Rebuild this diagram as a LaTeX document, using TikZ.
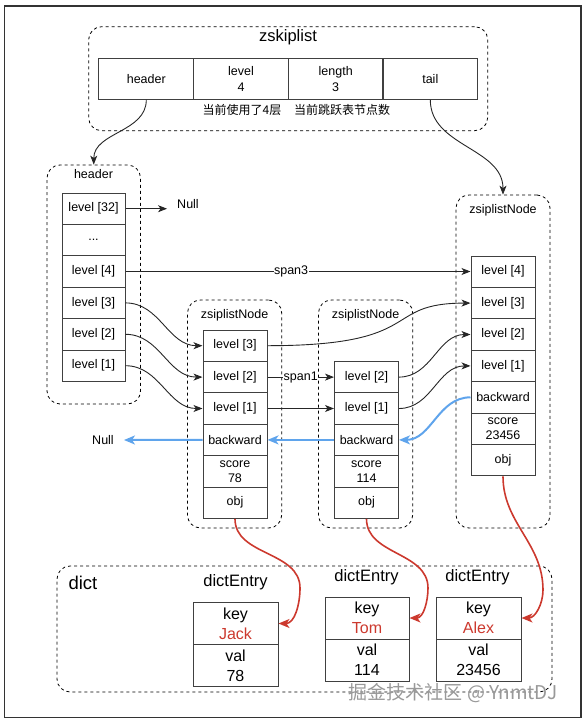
\documentclass[tikz,border=0pt]{standalone}
\usepackage{fontspec}
\setmainfont{Liberation Sans}
\newfontfamily\cjk{Noto Sans CJK SC}
\usetikzlibrary{arrows.meta,positioning}
\definecolor{redc}{RGB}{204,57,46}
\definecolor{bluec}{RGB}{95,164,236}
\begin{document}
\begin{tikzpicture}[x=1pt,y=-1pt,
  cell/.style={draw=black!75,line width=1pt,inner sep=0pt,minimum width=64pt,minimum height=31.4pt,align=center,font=\fontsize{12.5}{15}\selectfont},
  topcell/.style={cell,minimum width=94.7pt,minimum height=41pt,font=\fontsize{12.5}{16}\selectfont},
  entry/.style={cell,minimum width=85pt,minimum height=42pt,font=\fontsize{16}{20}\selectfont},
  grp/.style={draw=black,dash pattern=on 3pt off 3pt,line width=0.8pt,rounded corners=13pt,inner sep=0pt},
  ttl/.style={font=\fontsize{12.5}{15}\selectfont,inner sep=0pt},
  big/.style={font=\fontsize{16.5}{19}\selectfont,inner sep=0pt},
  lab/.style={font=\fontsize{12.5}{15}\selectfont,fill=white,inner sep=0.5pt},
  arr/.style={-{Stealth[length=9pt,width=7pt,inset=2.5pt]},line width=0.9pt,draw=black!85},
  barr/.style={-{Stealth[length=11pt,width=9pt,inset=3pt]},line width=2pt,draw=bluec,color=bluec},
  rarr/.style={-{Stealth[length=11pt,width=9pt,inset=3pt]},line width=1.6pt,draw=redc,color=redc},
]
\useasboundingbox (0,0) rectangle (584,724);
\draw[black!80,line width=1.2pt] (4.5,6) rectangle (581,717.5);

% zskiplist
\node[grp,minimum width=399pt,minimum height=104pt] (zbox) at (288.15,78.7) {};
\node[big] (ztitle) at (288,37) {zskiplist};
\node[topcell] (zhead) at (146.3,78.8) {header};
\node[topcell] (zlevel) at (241,78.8) {level\\4};
\node[topcell] (zlen) at (335.7,78.8) {length\\3};
\node[topcell] (ztail) at (430.3,78.8) {tail};
\node[font=\cjk\fontsize{12}{14}\selectfont,inner sep=0pt] (c1) at (242,110) {当前使用了4层};
\node[font=\cjk\fontsize{12}{14}\selectfont,inner sep=0pt] (c2) at (342,110) {当前跳跃表节点数};

% header box
\node[grp,minimum width=93.5pt,minimum height=239pt] (hbox) at (93.75,284.5) {};
\node[ttl] (htitle) at (93.5,174) {header};
\node[cell,minimum width=63pt] (h32) at (93.5,208.7) {level [32]};
\node[cell,minimum width=63pt] (hdots) at (93.5,240.1) {...};
\node[cell,minimum width=63pt] (h4) at (93.5,271.5) {level [4]};
\node[cell,minimum width=63pt] (h3) at (93.5,302.9) {level [3]};
\node[cell,minimum width=63pt] (h2) at (93.5,334.3) {level [2]};
\node[cell,minimum width=63pt] (h1) at (93.5,365.7) {level [1]};
\node[ttl,inner xsep=10pt] (nullt) at (188,204) {Null};

% node 1
\node[grp,minimum width=94.2pt,minimum height=228pt] (n1box) at (234.6,414) {};
\node[ttl] (n1title) at (234.6,315) {zsiplistNode};
\node[cell] (a3) at (235,345.7) {level [3]};
\node[cell] (a2) at (235,377.1) {level [2]};
\node[cell] (a1) at (235,408.5) {level [1]};
\node[cell] (b1) at (235,439.9) {backward};
\node[cell] (s1) at (235,471.3) {score\\78};
\node[cell] (o1) at (235,502.7) {obj};
\node[ttl,inner xsep=10pt] (nullb) at (103,440) {Null};

% node 2
\node[grp,minimum width=94.2pt,minimum height=228pt] (n2box) at (365.6,414) {};
\node[ttl] (n2title) at (365.6,315) {zsiplistNode};
\node[cell] (c2l) at (366.5,377.1) {level [2]};
\node[cell] (c1l) at (366.5,408.5) {level [1]};
\node[cell] (b2) at (366.5,439.9) {backward};
\node[cell] (s2) at (366.5,471.3) {score\\114};
\node[cell] (o2) at (366.5,502.7) {obj};

% right node
\node[grp,minimum width=94pt,minimum height=333pt] (rbox) at (503,361.5) {};
\node[ttl] (rtitle) at (503,210) {zsiplistNode};
\node[cell] (r4) at (503,271.7) {level [4]};
\node[cell] (r3) at (503,303.1) {level [3]};
\node[cell] (r2) at (503,334.5) {level [2]};
\node[cell] (r1) at (503,365.9) {level [1]};
\node[cell] (rb) at (503,397.3) {backward};
\node[cell] (s3) at (503,428.7) {score\\23456};
\node[cell] (o3) at (503,460.1) {obj};

% dict
\node[grp,minimum width=495pt,minimum height=126pt] (dbox) at (304.5,629) {};
\node[font=\fontsize{18.5}{22}\selectfont,inner sep=0pt] (dtitle) at (83,583) {dict};
\node[font=\fontsize{16.5}{20}\selectfont,inner sep=0pt] (e1t) at (235.5,582) {dictEntry};
\node[font=\fontsize{16.5}{20}\selectfont,inner sep=0pt] (e2t) at (366.5,577) {dictEntry};
\node[font=\fontsize{16.5}{20}\selectfont,inner sep=0pt] (e3t) at (477.5,577) {dictEntry};
\node[entry] (k1) at (235.5,623.5) {key\\\textcolor{redc}{Jack}};
\node[entry] (v1) at (235.5,665.5) {val\\78};
\node[entry,minimum width=84pt] (k2) at (367,618) {key\\\textcolor{redc}{Tom}};
\node[entry,minimum width=84pt] (v2) at (367,660) {val\\114};
\node[entry] (k3) at (478.5,618) {key\\\textcolor{redc}{Alex}};
\node[entry] (v3) at (478.5,660) {val\\23456};

\node[font=\cjk\fontsize{19}{22}\selectfont,text=black!40,inner sep=0pt] (wm) at (453,693) {掘金技术社区 @ YnmtDJ};

% top arrows
\draw[arr] (zhead.south) to[out=-90,in=90] (hbox.north);
\draw[arr] (ztail.south) to[out=-90,in=90] (rbox.north);

% header arrows
\draw[arr] (h32.east) -- (h32.east -| nullt.west);
\draw[arr] (h4.east) -- node[lab,pos=0.48]{span3} (h4.east -| r4.west);
\draw[arr] (h3.east) to[out=0,in=180] (a3.west);
\draw[arr] (h2.east) to[out=0,in=180] (a2.west);
\draw[arr] (h1.east) to[out=0,in=180] (a1.west);

% node1 arrows
\draw[arr] (a3.east) .. controls +(160,0) and +(-90,0) .. (r3.west);
\draw[arr] (a2.east) -- node[lab]{span1} (c2l.west);
\draw[arr] (a1.east) -- (c1l.west);

% node2 arrows
\draw[arr] (c2l.east) to[out=0,in=180] (r2.west);
\draw[arr] (c1l.east) to[out=0,in=180] (r1.west);

% backward
\draw[barr] (rb.west) to[out=180,in=0] (b2.east);
\draw[barr] (b2.west) -- (b1.east);
\draw[barr] (b1.west) -- (nullb.east);

% obj to dict
\draw[rarr] (o1.south) to[out=-90,in=90] (300,588) to[out=-90,in=0] (k1.east);
\draw[rarr] (o2.south) to[out=-90,in=90] (428,588) to[out=-90,in=0] (k2.east);
\draw[rarr] (o3.south) to[out=-90,in=90] (543,590) to[out=-90,in=0] (k3.east);
\end{tikzpicture}
\end{document}
